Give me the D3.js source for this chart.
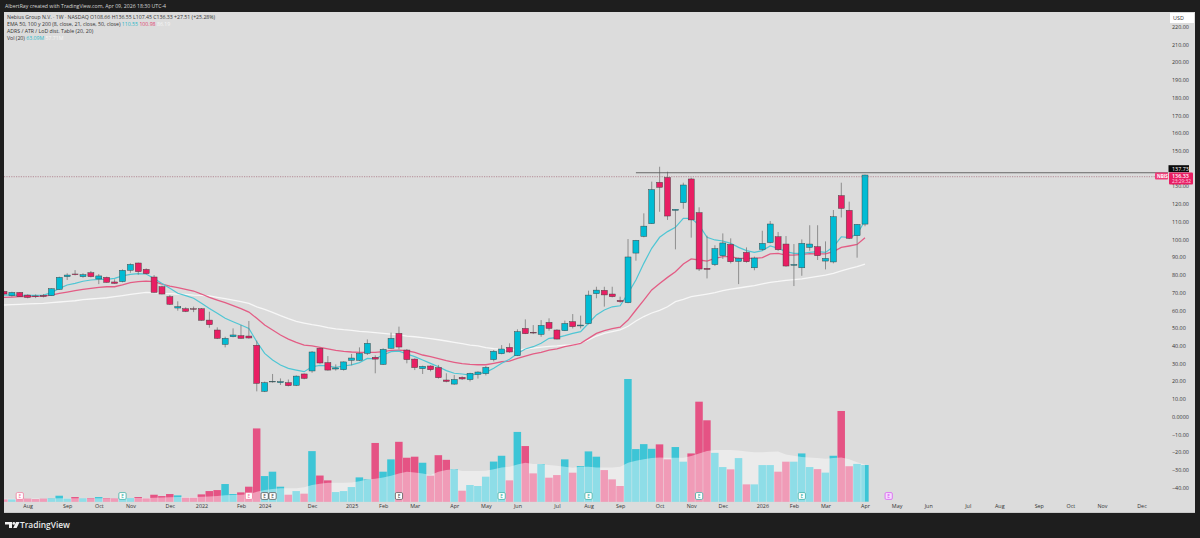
<!DOCTYPE html>
<html><head><meta charset="utf-8">
<script src="https://d3js.org/d3.v7.min.js"></script>
<style>html,body{margin:0;padding:0;background:#1e1e1e;overflow:hidden}svg{display:block}text{font-family:"Open Sans","Liberation Sans",sans-serif}</style>
</head><body><svg id="c" width="1200" height="538"></svg>
<script>
const opens=[70.7,68.3,70.1,68.6,68.1,68.4,68.3,71.8,79.0,80.5,79.0,81.2,77.7,78.6,76.0,76.2,82.6,86.7,83.1,78.8,73.3,67.7,61.3,60.9,60.9,60.9,54.5,48.9,40.8,45.1,45.7,45.5,40.3,14.3,19.6,19.2,19.2,17.7,24.1,25.8,38.6,30.5,26.9,26.5,31.8,31.8,35.7,33.5,29.5,38.6,47.0,37.6,32.5,27.1,28.6,27.7,20.7,18.4,22.2,20.9,23.9,24.3,32.2,35.5,39.1,34.4,49.8,47.6,46.4,53.2,48.9,48.5,53.6,51.2,52.5,69.4,71.3,69.2,65.6,64.3,92.3,101.7,108.9,132.2,135.0,116.4,120.7,134.1,115.1,83.7,85.8,90.8,97.2,87.6,92.7,84.0,94.4,98.2,101.5,97.4,85.4,84.0,95.5,95.9,87.8,87.3,124.7,116.4,102.1,108.66];
const highs=[71.1,70.5,70.3,69.0,69.0,69.2,72.4,79.0,80.9,82.7,80.9,82.2,80.5,79.0,77.5,83.1,86.5,86.9,83.7,79.9,73.9,68.6,65.1,61.7,62.1,61.3,59.2,50.4,45.1,49.8,51.7,54.0,42.9,19.8,24.1,21.6,21.0,23.3,24.4,37.0,38.9,34.2,29.5,31.2,35.4,39.1,43.6,34.6,38.6,47.4,50.8,38.2,32.9,28.8,29.0,29.2,24.5,23.5,22.8,24.8,25.6,28.6,37.6,40.4,41.4,49.3,54.9,51.7,54.5,55.5,49.3,54.2,57.9,57.0,71.1,73.3,73.3,73.3,67.7,100.2,99.7,114.7,132.6,141.0,138.2,117.0,132.0,134.8,118.1,102.1,96.7,103.4,100.6,89.7,95.5,90.3,104.9,110.4,104.2,101.9,97.4,100.0,108.0,108.0,98.9,116.6,132.0,121.3,108.7,136.55];
const lows=[68.8,67.7,67.7,66.8,66.9,67.3,68.1,71.5,77.1,79.7,78.4,78.6,74.8,75.6,75.0,75.8,81.2,80.1,80.3,70.0,69.0,63.0,59.8,59.0,59.0,54.2,50.2,43.8,39.1,44.8,44.0,44.0,14.3,13.9,19.2,17.9,17.1,17.3,21.1,24.8,29.9,26.0,26.0,26.0,29.0,31.4,34.8,24.5,29.2,38.4,38.0,30.1,26.3,24.1,25.6,21.5,19.4,18.0,20.7,19.9,21.5,23.3,31.2,35.2,36.1,34.2,46.6,46.6,45.1,48.5,43.6,48.3,49.8,49.8,52.1,66.8,62.1,67.3,64.3,64.0,88.0,101.2,108.7,115.6,111.0,94.4,117.3,101.0,82.2,78.0,85.0,89.0,86.5,74.8,86.9,82.6,93.6,97.8,93.5,84.6,73.7,79.5,93.6,88.4,83.1,86.5,112.4,100.2,89.7,107.45];
const closes=[69.2,70.1,67.7,67.3,67.7,67.9,72.2,78.6,79.9,80.1,80.1,79.0,79.4,75.8,75.2,82.6,85.9,81.8,80.7,70.1,69.2,63.4,62.1,59.4,60.6,54.4,51.9,44.2,44.2,46.1,44.2,44.4,18.8,19.2,19.9,19.8,17.5,22.9,21.6,36.5,30.3,26.3,27.5,30.9,33.1,35.7,41.4,32.5,38.0,44.2,39.3,32.2,27.7,28.4,26.5,22.0,19.9,21.0,21.3,24.5,25.2,27.8,36.9,38.2,36.5,48.0,46.8,47.2,51.5,49.8,43.8,52.6,50.8,51.7,68.6,71.4,68.7,67.7,64.9,90.1,99.5,107.5,128.1,129.4,113.2,117.0,130.7,111.0,83.3,83.1,94.8,98.0,87.4,89.3,87.4,89.5,97.8,108.7,94.2,85.0,85.9,97.8,97.4,90.8,89.3,112.8,117.5,100.6,108.5,136.33];
const volumes=[4,4,7.4,5.2,4.6,5.2,5.7,10.3,5.2,8,5.7,6.3,8,6.3,5.7,7.4,6.3,8,5.7,12,9.7,13.2,10.9,6.9,6.9,12.6,18.3,20,30.4,13.2,16,25.8,126,44.1,51.6,25.8,12,18.3,13.8,87,45,36.7,16.6,18.3,25.2,41.8,38.4,101,51.6,72.8,103,75.6,77.4,67,44.7,80,72,55.6,18.9,28.7,27,43,69,79,36.7,120,95.7,48.7,64.7,41.3,45.8,72.8,49.9,61.3,86.5,77.4,54.4,38.4,27,211,90.5,99,91,98.6,72.8,94,68.8,83,172,140,84,59.6,55.6,75,29.8,29.8,63,63,51.6,68.8,68.8,83,59.6,56,50,79,156,61,65,63.09];
const volMa=[5,5,5,5.5,5.5,5.5,5.5,6,6,6,6,6,6,6,6,6.5,6.5,6.5,6.5,7,7.2,7.5,8,8,8.2,8.5,9,10,11,11.5,12,13,17,20,22,23,23,23,25,28.6,31,32.7,32.7,32.7,33,35,38,39.5,41.8,44.7,48.7,51.6,50,48.7,45.8,51.6,54.4,55.6,52.7,52.7,52.7,53.3,55.6,59,60,64,67,64.7,64.7,63,62,60,58.4,60,60,59,59,59,60,67,70.5,73,75,76,75.6,75.6,75.6,78.5,83,87,89,89,89,88,86.5,85,85,86,86.5,81,79,77,76,75,74,75,76,73,68,64];
const ema8=[68.6,68.6,68.4,68.4,68.4,68.6,70,72.4,74.3,75.2,76.4,77.1,77.5,77.5,78,79.4,80.3,80.7,80.5,78,75.2,72.4,69.6,68.3,66.8,64,61.1,58.3,55.5,53.6,51.7,49.8,42.3,35.7,32,29.2,27.3,26.3,25.4,28.2,29,28.6,27.8,28.6,29.2,30.5,32.9,32.7,34.8,36.7,37,35.4,33.9,32,30.1,28.2,26,24.5,24.1,23.5,24.1,25,27.3,30.1,32.4,35.7,38.2,39.5,41.4,44.2,44.6,45.7,47,48,52.7,57.4,60.2,62,62.6,69.6,77.1,86.5,95,101.2,104.4,106.8,111.9,111.9,108.1,101.2,99.7,99.1,97.8,95.5,93.7,92.7,93.7,96.3,95,93.1,92.1,92.1,92.7,93.1,92.7,95.9,101.5,101,103,110.55];
const ema21=[67.3,67.5,67.7,67.7,67.9,68.1,68.6,69.6,70.3,71.1,71.8,72.4,73,73.3,73.3,74.3,75.6,76.2,76.5,76.2,74.8,73.7,72.8,71.8,70.9,69.2,67.3,65.8,64.3,62.6,61,59,55.5,51.7,48.9,46.1,43.8,41.9,40.4,39.9,39.1,38.2,37.4,36.9,36.5,36.3,36.3,36.3,36.7,37.4,37.6,37.2,36.3,34.8,33.9,32.7,31.6,30.7,29.9,29.5,29.3,29.3,30.1,31,31.4,32.9,34.2,35.4,36.3,37.6,38.2,39.5,40.4,41.4,44.2,47,48.5,49.7,50.5,54.5,60.2,65.8,71.5,75.2,78.6,81.8,86.1,89,88.4,87.8,89.3,90.3,90.3,89.3,89.3,89.3,89.7,91.8,92.1,91.2,91.2,91.6,92,91.8,91.8,93.1,95.5,96.3,97.2,100.98];
const ema50=[63,63.2,63.4,63.6,63.8,63.9,64.3,64.7,65.1,65.4,66,66.4,66.8,67.1,67.7,68.3,69,69.6,70.1,70,69.6,69.4,69.2,69,68.6,68.4,68.1,67.3,66.6,65.8,64.9,63.9,62,60.5,58.9,57,55.3,53.8,52.8,51.9,51.2,50.2,49.6,49.1,48.7,48.1,47.8,47.4,47,46.6,46.1,45.5,45.1,44.6,44,43.4,42.7,41.9,41.2,40.4,39.9,39,38.4,38.2,37.8,37.6,38.2,38.7,39.3,39.7,39.9,40.3,40.4,41.6,43.3,45.5,47,48,49,51,54,56.5,58.5,60,62,64.9,66.2,67.7,68.5,69.2,70,71.1,72,72.6,73.3,73.9,74.9,75.8,76.3,76.9,77.3,77.7,78.4,79.2,79.9,80.9,82.2,83.5,84.6,86];
const priceTicks=[220,210,200,190,180,170,160,150,130,120,110,100,90,80,70,60,50,40,30,20,10,0,-10,-20,-30,-40];
const timeIdx=[3,8,12,16,21,25,30,33,39,44,48,52,57,61,65,70,74,78,83,87,91,96,100,104,109,113,117,122,126,131,135,139,144];
const timeLabels=["Aug","Sep","Oct","Nov","Dec","2022","Feb","2024","Dec","2025","Feb","Mar","Apr","May","Jun","Jul","Aug","Sep","Oct","Nov","Dec","2026","Feb","Mar","Apr","May","Jun","Jul","Aug","Sep","Oct","Nov","Dec"];
const earnIdx=[2,15,31,33,34,50,63,74,88,101,112];
const earnKind=["p","g","p","k","k","k","g","g","g","g","m"];
const resistance=137.73, lastPrice=136.33;

const svg=d3.select("#c");
const x=d3.scaleLinear().domain([0,109]).range([4,865]);
const y=d3.scaleLinear().domain([0,220]).range([416.7,26.7]);
const yVol=d3.scaleLinear().domain([0,211]).range([501.7,379]);
const idx=d3.range(opens.length);
const UP="#00bcd4",DN="#e91e63",TXT="#333";

svg.append("rect").attr("x",4).attr("y",12).attr("width",1191).attr("height",500).attr("fill","#dcdcdc");
svg.append("rect").attr("x",4).attr("y",512).attr("width",1191).attr("height",1).attr("fill","#c8c8c8");
const clip=svg.append("defs").append("clipPath").attr("id","pane").append("rect").attr("x",4).attr("y",12).attr("width",1164).attr("height",500);
const pane=svg.append("g").attr("clip-path","url(#pane)");

// volume
const bw=7.7;
pane.append("g").selectAll("rect").data(idx).join("rect")
 .attr("x",i=>x(i)-bw/2).attr("width",bw-0.2)
 .attr("y",i=>yVol(volumes[i])).attr("height",i=>yVol(0)-yVol(volumes[i]))
 .attr("fill",i=>closes[i]>=opens[i]?UP:DN).attr("opacity",0.72);
pane.append("path").datum(idx).attr("fill","#fff").attr("fill-opacity",0.42)
 .attr("d",d3.area().x(i=>x(i)).y0(yVol(0)).y1(i=>yVol(volMa[i])).curve(d3.curveLinear));

// EMAs
const ln=a=>d3.line().x((d,i)=>x(i)).y(d=>y(d)).curve(d3.curveLinear)(a);
pane.append("path").attr("d",ln(ema50)).attr("fill","none").attr("stroke","#f7f7f7").attr("stroke-width",1.3);
pane.append("path").attr("d",ln(ema21)).attr("fill","none").attr("stroke","#e35d85").attr("stroke-width",1.3);
pane.append("path").attr("d",ln(ema8)).attr("fill","none").attr("stroke","#4fc6d4").attr("stroke-width",1.2);

// candles
pane.append("g").selectAll("line").data(idx).join("line")
 .attr("x1",i=>x(i)).attr("x2",i=>x(i)).attr("y1",i=>y(highs[i])).attr("y2",i=>y(lows[i]))
 .attr("stroke","#7a7a7a").attr("stroke-width",0.8);
pane.append("g").selectAll("rect").data(idx).join("rect")
 .attr("x",i=>x(i)-3).attr("width",6)
 .attr("y",i=>y(Math.max(opens[i],closes[i])))
 .attr("height",i=>Math.max(0.5,Math.abs(y(opens[i])-y(closes[i]))))
 .attr("fill",i=>closes[i]>=opens[i]?UP:DN).attr("stroke","#3f3f3f").attr("stroke-width",0.45);

// price lines
pane.append("line").attr("x1",x(80)).attr("x2",1168).attr("y1",y(resistance)+0.2).attr("y2",y(resistance)+0.2).attr("stroke","#5a5a5a").attr("stroke-width",0.9);
pane.append("line").attr("x1",4).attr("x2",1156).attr("y1",y(lastPrice)+1.7).attr("y2",y(lastPrice)+1.7).attr("stroke","#a56a78").attr("stroke-width",0.7).attr("stroke-dasharray","1.2 1.2");

// earnings
const ek={p:["#fff","#ef6f95"],g:["#fff","#26a69a"],k:["#fff","#444"],m:["#f6dcff","#d64df0"]};
const em=svg.append("g").selectAll("g").data(earnIdx).join("g").attr("transform",i=>`translate(${x(i)},496)`);
em.append("rect").attr("x",-3.6).attr("y",-3.4).attr("width",7.2).attr("height",6.8).attr("rx",1.2)
 .attr("fill",(d,i)=>ek[earnKind[i]][0]).attr("stroke",(d,i)=>ek[earnKind[i]][1]).attr("stroke-width",0.7);
em.append("text").attr("text-anchor","middle").attr("y",1.8).attr("font-size",4.8).attr("fill",(d,i)=>ek[earnKind[i]][1]).text("E");

// axes
const ay=svg.append("g").attr("transform","translate(1172,0)")
 .call(d3.axisRight(y).tickValues(priceTicks).tickSize(0).tickPadding(0).tickFormat(d=>d===0?"0.0000":(d<0?"\u2212":"")+Math.abs(d).toFixed(2)));
ay.select(".domain").remove();
ay.selectAll("text").attr("font-size",5.4).attr("fill",TXT).attr("font-family",'"Open Sans",sans-serif');
const ax=svg.append("g").attr("transform","translate(0,503)")
 .call(d3.axisBottom(x).tickValues(timeIdx).tickSize(0).tickPadding(1).tickFormat(d=>timeLabels[timeIdx.indexOf(d)]));
ax.select(".domain").remove();
ax.selectAll("text").attr("font-size",5.4).attr("fill",TXT).attr("font-family",'"Open Sans",sans-serif');

// right side labels
svg.append("rect").attr("x",1170).attr("y",13).attr("width",24).attr("height",10).attr("fill","#fff");
svg.append("text").attr("x",1173).attr("y",20.2).attr("font-size",5.4).attr("fill",TXT).text("USD");
svg.append("rect").attr("x",1168.5).attr("y",165.2).attr("width",20.5).attr("height",7).attr("fill","#0b0b0b");
svg.append("text").attr("x",1172).attr("y",170.8).attr("font-size",5.4).attr("fill","#fff").text(resistance.toFixed(2));
svg.append("rect").attr("x",1155).attr("y",172.4).attr("width",13).attr("height",7).attr("rx",1).attr("fill","#ef3d78");
svg.append("text").attr("x",1157).attr("y",177.8).attr("font-size",4.6).attr("font-weight",700).attr("fill","#fff").text("NBIS");
svg.append("rect").attr("x",1169).attr("y",172.4).attr("width",24).attr("height",12).attr("rx",1).attr("fill","#e91e63");
svg.append("text").attr("x",1172).attr("y",177.8).attr("font-size",5.4).attr("font-weight",600).attr("fill","#fff").text(lastPrice.toFixed(2));
svg.append("text").attr("x",1172).attr("y",183.2).attr("font-size",4.8).attr("fill","#ffd6e4").text("23:29:32");

// header & legend
svg.append("text").attr("x",5).attr("y",8).attr("font-size",5.2).attr("fill","#d8d8d8").text("AlbertRay created with TradingView.com, Apr 09, 2026 18:30 UTC-4");
const legend=[
 [["Nebius Group N.V. \u00b7 1W \u00b7 NASDAQ O108.66 H136.55 L107.45 C136.33 +27.51 (+25.28%)",TXT]],
 [["EMA 50, 100 y 200 (8, close, 21, close, 50, close) ",TXT],["110.55 ","#2bb8c9"],["100.98 ","#e0406f"],["86.19","#f5f5f5"]],
 [["ADRS / ATR / LoD dist. Table (20, 20)",TXT]],
 [["Vol (20) ",TXT],["63.09M ","#2bb8c9"],["57.71M","#f5f5f5"]]];
legend.forEach((row,k)=>{const t=svg.append("text").attr("x",7).attr("y",19+k*7).attr("font-size",5.2);
 row.forEach(r=>t.append("tspan").attr("fill",r[1]).text(r[0]));});

// footer
const lg=svg.append("g").attr("transform","translate(5,522)").attr("fill","#f0f0f0");
lg.append("path").attr("d","M0 0H7V6H4V2.6H0Z");
lg.append("circle").attr("cx",8.8).attr("cy",1.4).attr("r",1.4);
lg.append("path").attr("d","M11 0H14.6L11.6 6H8.2Z");
svg.append("text").attr("x",20).attr("y",528.2).attr("font-size",8.4).attr("font-weight",600).attr("fill","#eaeaea").attr("font-family",'"Lato",sans-serif').text("TradingView");
</script></body></html>
